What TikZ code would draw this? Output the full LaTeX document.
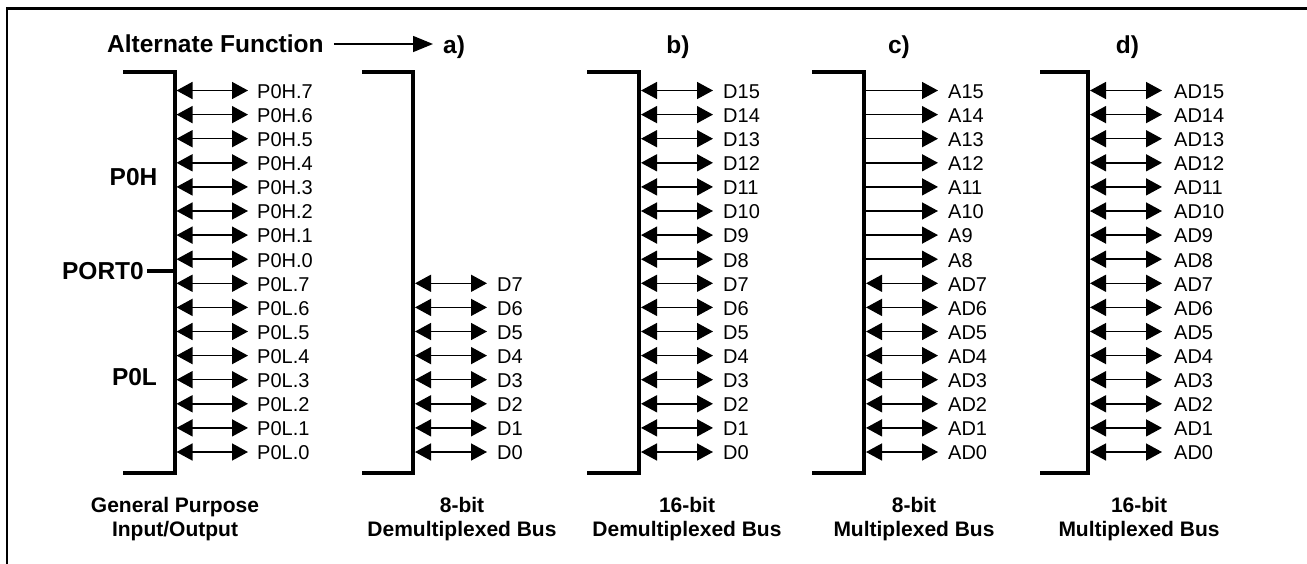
\documentclass[tikz,border=0pt]{standalone}
\usepackage{fontspec}
\setmainfont{Liberation Sans}
\usetikzlibrary{arrows.meta}
\tikzset{
  bracketline/.style={line width=4pt},
  frameline/.style={line width=2.6pt},
  busarrow/.style={line width=1.5pt,{Triangle[length=16pt,width=17pt]}-{Triangle[length=16pt,width=17pt]}},
  outarrow/.style={line width=1.5pt,-{Triangle[length=16pt,width=17pt]}},
  pinlbl/.style={anchor=west,inner sep=0pt,font=\fontsize{20}{24}\selectfont},
  boldlbl/.style={inner sep=0pt,font=\fontsize{24.5}{29}\selectfont\bfseries},
  caplbl/.style={anchor=north,inner sep=0pt,align=center,font=\fontsize{21}{24}\selectfont\bfseries},
}
\begin{document}
\begin{tikzpicture}[x=1pt,y=-1pt]
\useasboundingbox (0,0) rectangle (1307,563);
% frame (only top and left edges visible)
\draw[frameline] (7,600) -- (7,8.7) -- (1330,8.7);

% ---------- General purpose I/O ----------
\coordinate (gT) at (123,72);
\coordinate (gB) at (123,473);
\draw[bracketline] (gT) -- (174.5,72) -- (174.5,473) -- (gB);
\foreach \k/\t in {0/P0H.7,1/P0H.6,2/P0H.5,3/P0H.4,4/P0H.3,5/P0H.2,6/P0H.1,7/P0H.0,
                   8/P0L.7,9/P0L.6,10/P0L.5,11/P0L.4,12/P0L.3,13/P0L.2,14/P0L.1,15/P0L.0}{
  \coordinate (gL\k) at (176.5,90.5+24.1*\k);
  \coordinate (gR\k) at (248,90.5+24.1*\k);
  \node[pinlbl] (gN\k) at (257,91.5+24.1*\k) {\t};
  \draw[busarrow] (gL\k) -- (gR\k);
}
\node[boldlbl,anchor=east] (port) at (144,271) {PORT0};
\coordinate (portE) at (174.5,271);
\draw[line width=3.5pt] (port.east) ++(3,0) -- (portE);
\node[boldlbl] (p0h) at (133.5,177.5) {P0H};
\node[boldlbl] (p0l) at (134.5,377.5) {P0L};
\node[caplbl] (gcap) at (175,497) {General Purpose\\Input/Output};

% ---------- Alternate function ----------
\node[boldlbl,anchor=west] (alt) at (107,44) {Alternate Function};
\node[boldlbl,anchor=base west] (la) at (443,53) {a)};
\draw[line width=1.5pt,-{Triangle[length=20pt,width=16pt]}] (alt.east) ++(10,0) -- (433,44);

% ---------- a) 8-bit demultiplexed ----------
\draw[bracketline] (362,72) -- (413,72) -- (413,473) -- (362,473);
\foreach \k/\t in {8/D7,9/D6,10/D5,11/D4,12/D3,13/D2,14/D1,15/D0}{
  \coordinate (aL\k) at (415,90.5+24.1*\k);
  \coordinate (aR\k) at (487,90.5+24.1*\k);
  \node[pinlbl] (aN\k) at (497,91.5+24.1*\k) {\t};
  \draw[busarrow] (aL\k) -- (aR\k);
}
\node[caplbl] (acap) at (462,497) {8-bit\\Demultiplexed Bus};

% ---------- b) 16-bit demultiplexed ----------
\node[boldlbl,anchor=base] (lb) at (678,53) {b)};
\draw[bracketline] (587,72) -- (639,72) -- (639,473) -- (587,473);
\foreach \k/\t in {0/D15,1/D14,2/D13,3/D12,4/D11,5/D10,6/D9,7/D8,
                   8/D7,9/D6,10/D5,11/D4,12/D3,13/D2,14/D1,15/D0}{
  \coordinate (bL\k) at (641,90.5+24.1*\k);
  \coordinate (bR\k) at (713,90.5+24.1*\k);
  \node[pinlbl] (bN\k) at (723,91.5+24.1*\k) {\t};
  \draw[busarrow] (bL\k) -- (bR\k);
}
\node[caplbl] (bcap) at (687,497) {16-bit\\Demultiplexed Bus};

% ---------- c) 8-bit multiplexed ----------
\node[boldlbl,anchor=base] (lc) at (899,53) {c)};
\draw[bracketline] (812,72) -- (864,72) -- (864,473) -- (812,473);
\foreach \k/\t in {0/A15,1/A14,2/A13,3/A12,4/A11,5/A10,6/A9,7/A8}{
  \coordinate (cL\k) at (864,90.5+24.1*\k);
  \coordinate (cR\k) at (938,90.5+24.1*\k);
  \node[pinlbl] (cN\k) at (948,91.5+24.1*\k) {\t};
  \draw[outarrow] (cL\k) -- (cR\k);
}
\foreach \k/\t in {8/AD7,9/AD6,10/AD5,11/AD4,12/AD3,13/AD2,14/AD1,15/AD0}{
  \coordinate (cL\k) at (866,90.5+24.1*\k);
  \coordinate (cR\k) at (938,90.5+24.1*\k);
  \node[pinlbl] (cN\k) at (948,91.5+24.1*\k) {\t};
  \draw[busarrow] (cL\k) -- (cR\k);
}
\node[caplbl] (ccap) at (914,497) {8-bit\\Multiplexed Bus};

% ---------- d) 16-bit multiplexed ----------
\node[boldlbl,anchor=base] (ld) at (1127.5,53) {d)};
\draw[bracketline] (1040,72) -- (1088,72) -- (1088,473) -- (1040,473);
\foreach \k/\t in {0/AD15,1/AD14,2/AD13,3/AD12,4/AD11,5/AD10,6/AD9,7/AD8,
                   8/AD7,9/AD6,10/AD5,11/AD4,12/AD3,13/AD2,14/AD1,15/AD0}{
  \coordinate (dL\k) at (1090,90.5+24.1*\k);
  \coordinate (dR\k) at (1162,90.5+24.1*\k);
  \node[pinlbl] (dN\k) at (1174,91.5+24.1*\k) {\t};
  \draw[busarrow] (dL\k) -- (dR\k);
}
\node[caplbl] (dcap) at (1139,497) {16-bit\\Multiplexed Bus};
\end{tikzpicture}
\end{document}
